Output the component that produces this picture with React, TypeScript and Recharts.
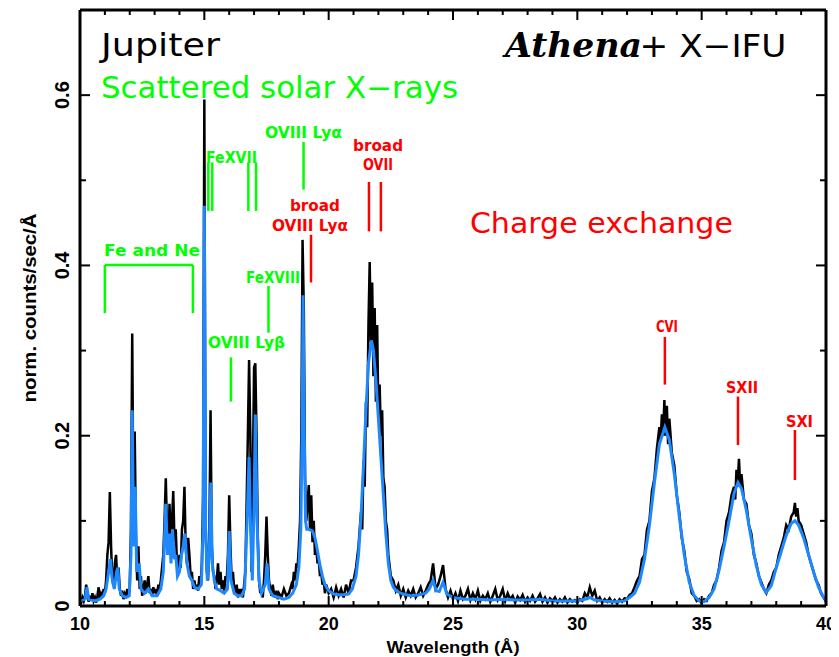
import React from "react";
import { LineChart, Line, XAxis, YAxis, ReferenceLine, ReferenceDot } from "recharts";

const GREEN = "#00ff00";
const RED = "#ff0000";
const BLUE = "#1e88ff";
const SANS = "'DejaVu Sans', sans-serif";
const AXF = "'Liberation Sans', Arial, sans-serif";

type Pt = [number, number];

// Observed (black) spectrum: [wavelength Å, norm. counts/sec/Å]
const observed10to15: Pt[] = [
  [10.0, 0.008], [10.05, 0.004], [10.1, 0.01], [10.15, 0.006], [10.2, 0.012], [10.25, 0.025], [10.3, 0.01], [10.35, 0.005],
  [10.4, 0.012], [10.45, 0.007], [10.5, 0.015], [10.55, 0.006], [10.6, 0.01], [10.65, 0.004], [10.7, 0.012], [10.75, 0.022],
  [10.8, 0.008], [10.85, 0.014], [10.9, 0.01], [10.95, 0.02], [11.0, 0.015], [11.05, 0.03], [11.1, 0.06], [11.15, 0.075],
  [11.2, 0.134], [11.25, 0.07], [11.3, 0.03], [11.35, 0.025], [11.4, 0.05], [11.45, 0.06], [11.5, 0.03], [11.55, 0.045],
  [11.6, 0.02], [11.65, 0.012], [11.7, 0.018], [11.75, 0.008], [11.8, 0.014], [11.85, 0.01], [11.9, 0.02], [11.95, 0.012],
  [12.0, 0.02], [12.05, 0.09], [12.1, 0.32], [12.15, 0.1], [12.2, 0.205], [12.25, 0.08], [12.3, 0.03], [12.35, 0.07],
  [12.4, 0.02], [12.45, 0.035], [12.5, 0.012], [12.55, 0.02], [12.6, 0.03], [12.65, 0.015], [12.7, 0.025], [12.75, 0.035],
  [12.8, 0.015], [12.85, 0.02], [12.9, 0.012], [12.95, 0.022], [13.0, 0.015], [13.05, 0.02], [13.1, 0.012], [13.15, 0.025],
  [13.2, 0.02], [13.25, 0.03], [13.3, 0.045], [13.35, 0.06], [13.4, 0.1], [13.45, 0.15], [13.5, 0.09], [13.55, 0.06],
  [13.6, 0.12], [13.65, 0.07], [13.7, 0.1], [13.75, 0.135], [13.8, 0.075], [13.85, 0.09], [13.9, 0.05], [13.95, 0.04],
  [14.0, 0.06], [14.05, 0.045], [14.1, 0.09], [14.15, 0.1], [14.2, 0.14], [14.25, 0.07], [14.3, 0.05], [14.35, 0.08],
  [14.4, 0.06], [14.45, 0.035], [14.5, 0.04], [14.55, 0.02], [14.6, 0.03], [14.65, 0.02], [14.7, 0.025], [14.75, 0.018],
  [14.8, 0.035], [14.85, 0.025], [14.9, 0.05], [14.95, 0.13],
];
const observed15to20: Pt[] = [
  [15.0, 0.595], [15.05, 0.1], [15.1, 0.04], [15.15, 0.03], [15.2, 0.08], [15.25, 0.23], [15.3, 0.07], [15.35, 0.04],
  [15.4, 0.035], [15.45, 0.02], [15.5, 0.03], [15.55, 0.05], [15.6, 0.025], [15.65, 0.04], [15.7, 0.02], [15.75, 0.03],
  [15.8, 0.018], [15.85, 0.035], [15.9, 0.03], [15.95, 0.06], [16.0, 0.13], [16.05, 0.07], [16.1, 0.03], [16.15, 0.04],
  [16.2, 0.02], [16.25, 0.015], [16.3, 0.025], [16.35, 0.01], [16.4, 0.02], [16.45, 0.012], [16.5, 0.02], [16.55, 0.01],
  [16.6, 0.025], [16.65, 0.04], [16.7, 0.12], [16.75, 0.2], [16.8, 0.289], [16.85, 0.2], [16.9, 0.04], [16.95, 0.15],
  [17.0, 0.28], [17.05, 0.285], [17.1, 0.2], [17.15, 0.08], [17.2, 0.03], [17.25, 0.015], [17.3, 0.02], [17.35, 0.01],
  [17.4, 0.03], [17.45, 0.06], [17.5, 0.105], [17.55, 0.06], [17.6, 0.03], [17.65, 0.02], [17.7, 0.012], [17.75, 0.025],
  [17.8, 0.015], [17.85, 0.01], [17.9, 0.018], [17.95, 0.008], [18.0, 0.015], [18.1, 0.01], [18.2, 0.02], [18.3, 0.012],
  [18.4, 0.015], [18.5, 0.025], [18.55, 0.02], [18.6, 0.04], [18.65, 0.03], [18.7, 0.05], [18.75, 0.045], [18.8, 0.07],
  [18.85, 0.1], [18.9, 0.2], [18.95, 0.43], [19.0, 0.35], [19.05, 0.15], [19.1, 0.1], [19.15, 0.12], [19.2, 0.142],
  [19.25, 0.09], [19.3, 0.13], [19.35, 0.075], [19.4, 0.1], [19.45, 0.06], [19.5, 0.07], [19.55, 0.05], [19.6, 0.055],
  [19.65, 0.035], [19.7, 0.04], [19.75, 0.025], [19.8, 0.03], [19.85, 0.015], [19.9, 0.025],
];
const observed20to25: Pt[] = [
  [20.0, 0.015], [20.1, 0.02], [20.2, 0.01], [20.3, 0.022], [20.4, 0.012], [20.5, 0.02], [20.6, 0.01], [20.7, 0.025],
  [20.8, 0.015], [20.9, 0.03], [21.0, 0.03], [21.1, 0.045], [21.2, 0.07], [21.3, 0.11], [21.35, 0.09], [21.4, 0.17],
  [21.45, 0.14], [21.5, 0.24], [21.55, 0.21], [21.6, 0.33], [21.65, 0.404], [21.7, 0.31], [21.75, 0.38], [21.8, 0.27],
  [21.85, 0.35], [21.9, 0.24], [21.95, 0.33], [22.0, 0.22], [22.05, 0.26], [22.1, 0.2], [22.15, 0.23], [22.2, 0.15],
  [22.25, 0.14], [22.3, 0.1], [22.35, 0.09], [22.4, 0.06], [22.5, 0.035], [22.6, 0.03], [22.7, 0.018], [22.8, 0.025],
  [22.9, 0.012], [23.0, 0.02], [23.1, 0.01], [23.2, 0.018], [23.3, 0.012], [23.4, 0.02], [23.5, 0.01], [23.6, 0.015],
  [23.7, 0.022], [23.8, 0.012], [23.9, 0.018], [24.0, 0.025], [24.1, 0.03], [24.2, 0.05], [24.3, 0.02], [24.4, 0.025],
  [24.5, 0.035], [24.6, 0.048], [24.7, 0.02], [24.8, 0.01], [24.9, 0.018],
];
const observed25to40: Pt[] = [
  [25.0, 0.008], [25.1, 0.015], [25.2, 0.006], [25.3, 0.018], [25.4, 0.008], [25.5, 0.012], [25.6, 0.02], [25.7, 0.007],
  [25.8, 0.015], [25.9, 0.008], [26.0, 0.018], [26.1, 0.006], [26.2, 0.012], [26.3, 0.008], [26.4, 0.015], [26.5, 0.005],
  [26.6, 0.012], [26.7, 0.02], [26.8, 0.007], [26.9, 0.012], [27.0, 0.02], [27.1, 0.006], [27.2, 0.015], [27.3, 0.008],
  [27.4, 0.012], [27.5, 0.004], [27.6, 0.011], [27.7, 0.007], [27.8, 0.013], [27.9, 0.005], [28.0, 0.01], [28.1, 0.006],
  [28.2, 0.012], [28.3, 0.005], [28.4, 0.009], [28.5, 0.014], [28.6, 0.005], [28.7, 0.01], [28.8, 0.004], [28.9, 0.009],
  [29.0, 0.006], [29.1, 0.01], [29.2, 0.004], [29.3, 0.008], [29.4, 0.005], [29.5, 0.01], [29.6, 0.004], [29.7, 0.008],
  [29.8, 0.005], [29.9, 0.007], [30.0, 0.004], [30.1, 0.008], [30.2, 0.006], [30.3, 0.015], [30.4, 0.01], [30.5, 0.022],
  [30.6, 0.012], [30.7, 0.018], [30.8, 0.006], [30.9, 0.01], [31.0, 0.004], [31.1, 0.008], [31.2, 0.005], [31.3, 0.009],
  [31.4, 0.004], [31.5, 0.007], [31.6, 0.003], [31.7, 0.008], [31.8, 0.005], [31.9, 0.009], [32.0, 0.008], [32.1, 0.013],
  [32.2, 0.015], [32.3, 0.022], [32.4, 0.03], [32.5, 0.035], [32.6, 0.055], [32.7, 0.06], [32.8, 0.09], [32.9, 0.1],
  [33.0, 0.135], [33.1, 0.15], [33.2, 0.185], [33.3, 0.21], [33.35, 0.195], [33.4, 0.225], [33.45, 0.2], [33.5, 0.242],
  [33.55, 0.2], [33.6, 0.235], [33.65, 0.19], [33.7, 0.22], [33.8, 0.18], [33.9, 0.165], [34.0, 0.13], [34.1, 0.11],
  [34.2, 0.08], [34.3, 0.065], [34.4, 0.04], [34.5, 0.032], [34.6, 0.015], [34.7, 0.012], [34.8, 0.006], [34.9, 0.008],
  [35.0, 0.003], [35.1, 0.008], [35.2, 0.006], [35.3, 0.012], [35.4, 0.015], [35.5, 0.025], [35.6, 0.03], [35.7, 0.045],
  [35.8, 0.065], [35.9, 0.075], [36.0, 0.1], [36.1, 0.11], [36.2, 0.13], [36.3, 0.14], [36.35, 0.125], [36.4, 0.16],
  [36.45, 0.145], [36.5, 0.173], [36.55, 0.14], [36.6, 0.155], [36.7, 0.125], [36.8, 0.12], [36.9, 0.095], [37.0, 0.085],
  [37.1, 0.06], [37.2, 0.05], [37.3, 0.035], [37.4, 0.028], [37.5, 0.02], [37.6, 0.015], [37.7, 0.025], [37.8, 0.03],
  [37.9, 0.04], [38.0, 0.045], [38.1, 0.06], [38.2, 0.07], [38.3, 0.08], [38.4, 0.095], [38.5, 0.09], [38.6, 0.105],
  [38.7, 0.11], [38.75, 0.121], [38.8, 0.105], [38.85, 0.115], [38.9, 0.1], [39.0, 0.095], [39.1, 0.085], [39.2, 0.075],
  [39.3, 0.06], [39.4, 0.05], [39.5, 0.04], [39.6, 0.03], [39.7, 0.025], [39.8, 0.015], [39.9, 0.01], [40.0, 0.005],
];

// Model (blue) spectrum
const model10to15: Pt[] = [
  [10.0, 0.006], [10.2, 0.008], [10.28, 0.022], [10.35, 0.008], [10.6, 0.006], [10.8, 0.008], [10.95, 0.012], [11.05, 0.02],
  [11.15, 0.04], [11.22, 0.055], [11.3, 0.03], [11.38, 0.02], [11.47, 0.04], [11.52, 0.045], [11.58, 0.02], [11.7, 0.012],
  [11.85, 0.01], [11.98, 0.012], [12.05, 0.06], [12.1, 0.23], [12.16, 0.07], [12.22, 0.14], [12.28, 0.04], [12.38, 0.05],
  [12.45, 0.02], [12.6, 0.015], [12.75, 0.02], [12.9, 0.012], [13.1, 0.012], [13.25, 0.02], [13.35, 0.04], [13.45, 0.12],
  [13.52, 0.06], [13.6, 0.085], [13.66, 0.05], [13.72, 0.09], [13.8, 0.055], [13.85, 0.06], [13.92, 0.035], [14.0, 0.04],
  [14.08, 0.06], [14.15, 0.07], [14.22, 0.085], [14.3, 0.05], [14.4, 0.035], [14.5, 0.03], [14.6, 0.022], [14.75, 0.02],
  [14.88, 0.025], [14.95, 0.09],
];
const model15to20: Pt[] = [
  [15.0, 0.47], [15.05, 0.09], [15.12, 0.03], [15.2, 0.06], [15.26, 0.145], [15.32, 0.05], [15.4, 0.03], [15.5, 0.02],
  [15.65, 0.018], [15.8, 0.015], [15.93, 0.02], [16.0, 0.088], [16.07, 0.03], [16.2, 0.015], [16.35, 0.012], [16.5, 0.012],
  [16.62, 0.02], [16.72, 0.1], [16.8, 0.175], [16.86, 0.09], [16.93, 0.03], [17.0, 0.12], [17.05, 0.225], [17.12, 0.1],
  [17.2, 0.03], [17.3, 0.015], [17.45, 0.025], [17.52, 0.05], [17.6, 0.02], [17.75, 0.012], [18.0, 0.01], [18.2, 0.008],
  [18.4, 0.01], [18.55, 0.015], [18.7, 0.025], [18.8, 0.045], [18.88, 0.09], [18.93, 0.2], [18.97, 0.365], [19.02, 0.2],
  [19.07, 0.1], [19.12, 0.09], [19.2, 0.09], [19.35, 0.088], [19.45, 0.08], [19.55, 0.065], [19.65, 0.048], [19.75, 0.035],
  [19.85, 0.025],
];
const model20to25: Pt[] = [
  [20.0, 0.018], [20.2, 0.014], [20.5, 0.013], [20.8, 0.014], [20.95, 0.02], [21.1, 0.035], [21.2, 0.06], [21.3, 0.105],
  [21.4, 0.165], [21.5, 0.23], [21.6, 0.285], [21.72, 0.312], [21.8, 0.3], [21.9, 0.265], [22.0, 0.22], [22.1, 0.175],
  [22.2, 0.13], [22.3, 0.085], [22.4, 0.05], [22.5, 0.03], [22.6, 0.022], [22.75, 0.017], [23.0, 0.014], [23.3, 0.012],
  [23.6, 0.013], [23.9, 0.015], [24.05, 0.02], [24.2, 0.03], [24.32, 0.018], [24.45, 0.017], [24.6, 0.028], [24.75, 0.014],
];
const model25to40: Pt[] = [
  [25.0, 0.01], [25.5, 0.008], [26.0, 0.008], [26.5, 0.007], [27.0, 0.008], [27.5, 0.007], [28.0, 0.007], [28.5, 0.008],
  [29.0, 0.006], [29.5, 0.006], [30.0, 0.006], [30.3, 0.008], [30.5, 0.01], [30.7, 0.007], [31.0, 0.006], [31.5, 0.005],
  [31.9, 0.006], [32.1, 0.01], [32.3, 0.015], [32.5, 0.028], [32.7, 0.055], [32.9, 0.095], [33.1, 0.145], [33.3, 0.19],
  [33.52, 0.21], [33.7, 0.195], [33.9, 0.155], [34.1, 0.105], [34.3, 0.06], [34.5, 0.028], [34.7, 0.012], [34.9, 0.006],
  [35.1, 0.005], [35.3, 0.01], [35.5, 0.02], [35.7, 0.042], [35.9, 0.07], [36.1, 0.1], [36.3, 0.132], [36.46, 0.145],
  [36.6, 0.138], [36.8, 0.112], [37.0, 0.078], [37.2, 0.047], [37.4, 0.025], [37.6, 0.016], [37.8, 0.024], [38.0, 0.045],
  [38.2, 0.064], [38.4, 0.083], [38.6, 0.097], [38.75, 0.1], [38.9, 0.095], [39.1, 0.08], [39.3, 0.06], [39.5, 0.04],
  [39.7, 0.022], [39.9, 0.01], [40.0, 0.007],
];

const xTicks = [10, 11, 12, 13, 14, 15, 16, 17, 18, 19, 20, 21, 22, 23, 24, 25, 26, 27, 28, 29, 30, 31, 32, 33, 34, 35, 36, 37, 38, 39, 40];
const xMajorTicks = [10, 15, 20, 25, 30, 35, 40];
const yTicks = [0, 0.1, 0.2, 0.3, 0.4, 0.5, 0.6];
const yMajorTicks = [0, 0.2, 0.4, 0.6];
const yTickLabels = ["0", "0.2", "0.4", "0.6"];

const toRows = (pts: Pt[]) => pts.map(([wl, c]) => ({ wl, c }));
const observedRows = toRows([...observed10to15, ...observed15to20, ...observed20to25, ...observed25to40]);
const modelRows = toRows([...model10to15, ...model15to20, ...model20to25, ...model25to40]);

// Annotation marker lines (data coordinates)
const markerLines = [
  { x: 15.16, y1: 0.464, y2: 0.521, color: GREEN },
  { x: 15.32, y1: 0.464, y2: 0.521, color: GREEN },
  { x: 16.77, y1: 0.464, y2: 0.521, color: GREEN },
  { x: 17.08, y1: 0.464, y2: 0.521, color: GREEN },
  { x: 18.99, y1: 0.489, y2: 0.545, color: GREEN },
  { x: 17.58, y1: 0.321, y2: 0.376, color: GREEN },
  { x: 16.07, y1: 0.24, y2: 0.292, color: GREEN },
  { x: 11.0, y1: 0.344, y2: 0.4005, color: GREEN },
  { x: 14.54, y1: 0.344, y2: 0.4005, color: GREEN },
  { x: 19.29, y1: 0.38, y2: 0.436, color: RED },
  { x: 21.62, y1: 0.44, y2: 0.498, color: RED },
  { x: 22.1, y1: 0.44, y2: 0.498, color: RED },
  { x: 33.52, y1: 0.26, y2: 0.316, color: RED },
  { x: 36.46, y1: 0.189, y2: 0.246, color: RED },
  { x: 38.75, y1: 0.148, y2: 0.2067, color: RED },
];

type Lbl = { text: string; x: number; y: number; color: string; size: number; width: number; weight?: string; family?: string; italic?: boolean };
const markerLabels: Lbl[] = [
  { text: "Jupiter", x: 10.845, y: 0.646, color: "#000", size: 32, width: 119 },
  { text: "Scattered solar X\u2212rays", x: 10.845, y: 0.5966, color: GREEN, size: 30, width: 357 },
  { text: "Athena", x: 27.09, y: 0.6448, color: "#000", size: 34, width: 137, weight: "bold", family: "'DejaVu Serif', serif", italic: true },
  { text: "+ X\u2212IFU", x: 32.5, y: 0.6448, color: "#000", size: 32, width: 147 },
  { text: "Charge exchange", x: 25.68, y: 0.438, color: RED, size: 29, width: 263 },
  { text: "Fe and Ne", x: 10.965, y: 0.411, color: GREEN, size: 16, width: 96, weight: "bold" },
  { text: "FeXVII", x: 15.067, y: 0.5203, color: GREEN, size: 16, width: 51, weight: "bold" },
  { text: "OVIII Ly\u03b1", x: 17.44, y: 0.5497, color: GREEN, size: 16, width: 77, weight: "bold" },
  { text: "FeXVIII", x: 16.675, y: 0.3797, color: GREEN, size: 16, width: 54, weight: "bold" },
  { text: "OVIII Ly\u03b2", x: 15.147, y: 0.303, color: GREEN, size: 16, width: 77, weight: "bold" },
  { text: "broad", x: 18.445, y: 0.4638, color: RED, size: 15, width: 50, weight: "bold" },
  { text: "OVIII Ly\u03b1", x: 17.72, y: 0.4404, color: RED, size: 16, width: 76, weight: "bold" },
  { text: "broad", x: 20.98, y: 0.5345, color: RED, size: 15, width: 50, weight: "bold" },
  { text: "OVII", x: 21.38, y: 0.5115, color: RED, size: 15, width: 30, weight: "bold" },
  { text: "CVI", x: 33.16, y: 0.3218, color: RED, size: 16, width: 22, weight: "bold" },
  { text: "SXII", x: 35.98, y: 0.2505, color: RED, size: 16, width: 32, weight: "bold" },
  { text: "SXI", x: 38.39, y: 0.2102, color: RED, size: 16, width: 27, weight: "bold" },
];

const BottomTick = (props: any) => {
  const { x, y, payload } = props;
  const major = xMajorTicks.includes(payload.value);
  return (
    <g>
      <line x1={x} x2={x} y1={y} y2={y - (major ? 10 : 5)} stroke="#000" strokeWidth={2} />
      {major && (
        <text x={x} y={y + 24} textAnchor="middle" fontFamily={AXF} fontWeight="bold" fontSize={18} fill="#000">
          {payload.value}
        </text>
      )}
    </g>
  );
};
const TopTick = (props: any) => {
  const { x, y, payload } = props;
  const major = xMajorTicks.includes(payload.value);
  return <line x1={x} x2={x} y1={y} y2={y + (major ? 10 : 5)} stroke="#000" strokeWidth={2} />;
};
const LeftTick = (props: any) => {
  const { x, y, payload } = props;
  const idx = yMajorTicks.indexOf(payload.value);
  const tx = x - 11;
  return (
    <g>
      <line x1={x} x2={x + (idx >= 0 ? 10 : 6)} y1={y} y2={y} stroke="#000" strokeWidth={2} />
      {idx >= 0 && (
        <text x={tx} y={y} transform={`rotate(-90 ${tx} ${y})`} textAnchor="middle" fontFamily={AXF} fontWeight="bold" fontSize={20} fill="#000">
          {yTickLabels[idx]}
        </text>
      )}
    </g>
  );
};
const RightTick = (props: any) => {
  const { x, y, payload } = props;
  const major = yMajorTicks.includes(payload.value);
  return <line x1={x} x2={x - (major ? 10 : 6)} y1={y} y2={y} stroke="#000" strokeWidth={2} />;
};

export default function App() {
  return (
    <LineChart width={831} height={649} margin={{ top: 1, right: 0, bottom: 0, left: 0 }}>
      <XAxis
        dataKey="wl" type="number" domain={[10, 40]} ticks={xTicks} interval={0} allowDataOverflow
        tickSize={0} tickMargin={0} tickLine={false} tick={<BottomTick />} height={51}
        axisLine={{ stroke: "#000", strokeWidth: 3 }}
        label={{
          content: (p: any) => {
            const vb = p.viewBox || { x: 72, y: 598, width: 746, height: 51 };
            return (
              <text x={vb.x + vb.width / 2} y={vb.y + 47} textAnchor="middle" fontFamily={AXF} fontWeight="bold" fontSize={17} fill="#000" textLength={133} lengthAdjust="spacingAndGlyphs">
                Wavelength (Å)
              </text>
            );
          },
        }}
      />
      <XAxis
        xAxisId="top" orientation="top" dataKey="wl" type="number" domain={[10, 40]} ticks={xTicks} interval={0} allowDataOverflow
        tickSize={0} tickMargin={0} tickLine={false} tick={<TopTick />} height={1}
        axisLine={{ stroke: "#000", strokeWidth: 3 }}
      />
      <YAxis
        type="number" domain={[0, 0.7]} ticks={yTicks} interval={0} allowDataOverflow
        tickSize={0} tickMargin={0} tickLine={false} tick={<LeftTick />} width={72}
        axisLine={{ stroke: "#000", strokeWidth: 3 }}
        label={{
          content: (p: any) => {
            const vb = p.viewBox || { x: 0, y: 2, width: 72, height: 596 };
            const cx = 28;
            const cy = vb.y + vb.height / 2;
            return (
              <text x={cx} y={cy} transform={`rotate(-90 ${cx} ${cy})`} textAnchor="middle" fontFamily={AXF} fontWeight="bold" fontSize={18} fill="#000" textLength={189} lengthAdjust="spacingAndGlyphs">
                norm. counts/sec/Å
              </text>
            );
          },
        }}
      />
      <YAxis
        yAxisId="right" orientation="right" type="number" domain={[0, 0.7]} ticks={yTicks} interval={0} allowDataOverflow
        tickSize={0} tickMargin={0} tickLine={false} tick={<RightTick />} width={13}
        axisLine={{ stroke: "#000", strokeWidth: 3 }}
      />
      <Line data={observedRows} dataKey="c" type="linear" stroke="#000" strokeWidth={2.5} dot={false} activeDot={false} isAnimationActive={false} />
      <Line xAxisId="top" data={modelRows} dataKey="c" type="linear" stroke={BLUE} strokeWidth={3} dot={false} activeDot={false} isAnimationActive={false} />
      <ReferenceLine segment={[{ x: 11.0, y: 0.4005 }, { x: 14.54, y: 0.4005 }]} stroke={GREEN} strokeWidth={2.5} />
      {markerLines.map((m, i) => (
        <ReferenceLine key={"m" + i} segment={[{ x: m.x, y: m.y1 }, { x: m.x, y: m.y2 }]} stroke={m.color} strokeWidth={2.5} />
      ))}
      {markerLabels.map((m, i) => (
        <ReferenceDot
          key={"t" + i} x={m.x} y={m.y} r={0}
          shape={(p: any) => (
            <text
              x={p.cx} y={p.cy} fill={m.color} fontSize={m.size} fontWeight={m.weight || "normal"}
              fontStyle={m.italic ? "italic" : "normal"} fontFamily={m.family || SANS}
              textLength={m.width} lengthAdjust="spacingAndGlyphs"
            >
              {m.text}
            </text>
          )}
        />
      ))}
    </LineChart>
  );
}
